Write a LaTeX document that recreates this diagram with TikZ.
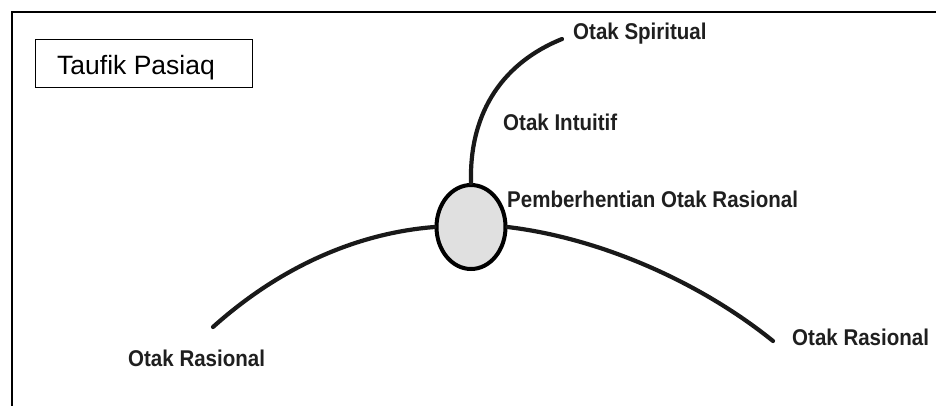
\documentclass[tikz,border=0pt]{standalone}
\usepackage{fontspec}
\setmainfont{Liberation Sans}
\newfontfamily\labfont[FakeStretch=0.9]{Liberation Sans Bold}
\usetikzlibrary{shapes.geometric}
\begin{document}
\begin{tikzpicture}[x=1pt,y=-1pt,
  lab/.style={anchor=base west,inner sep=0pt,font=\labfont\fontsize{22.8}{24}\selectfont,text=black!88},
  curve/.style={line width=4.2pt,line cap=round,black!90},
  frame/.style={line width=2pt,black}]
\useasboundingbox (0,0) rectangle (936,405);
\fill[white] (0,0) rectangle (936,405);
% outer frame (top and left sides visible)
\draw[frame] (12,406) -- (12,12) -- (937,12);
% author box
\node[draw,line width=1.3pt,minimum width=217pt,minimum height=48pt,anchor=north west,inner sep=0pt] (author) at (35,39) {};
\node[anchor=base west,inner sep=0pt,font=\fontsize{26.5}{28}\selectfont] (authortxt) at (57,74) {Taufik Pasiaq};
% central ellipse
\node[ellipse,draw,line width=4pt,fill=black!12,minimum width=69pt,minimum height=84pt,inner sep=0pt] (stop) at (471,227) {};
% labels
\node[lab] (spir) at (573,39) {Otak Spiritual};
\node[lab] (intu) at (503,130) {Otak Intuitif};
\node[lab] (pemb) at (507,207) {Pemberhentian Otak Rasional};
\node[lab] (rasL) at (128,366) {Otak Rasional};
\node[lab] (rasR) at (792,345) {Otak Rasional};
% curve end points
\coordinate (endS) at (562,39);
\coordinate (endL) at (213,327);
\coordinate (endR) at (773,341);
% curves
\draw[curve] (stop.north) .. controls (469,110) and (505,62) .. (endS);
\draw[curve] (endL) .. controls (290,258) and (370,232) .. (stop.west);
\draw[curve] (stop.east) .. controls (600,238) and (700,282) .. (endR);
\end{tikzpicture}
\end{document}
